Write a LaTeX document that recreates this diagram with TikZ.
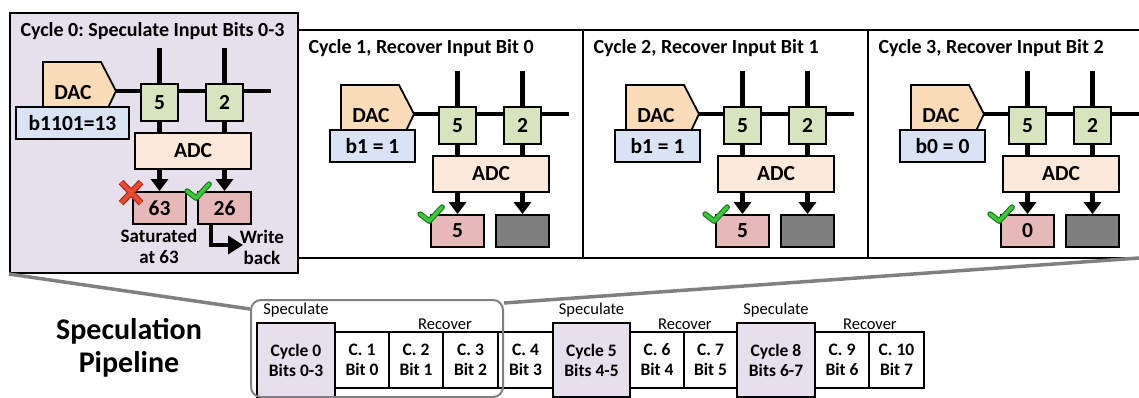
\documentclass[tikz,border=0pt]{standalone}
\usepackage{fontspec}
\setmainfont{Carlito}
\usetikzlibrary{arrows.meta,calc}
\frenchspacing

\pgfdeclarelayer{back}
\pgfdeclarelayer{bg}
\pgfsetlayers{back,bg,main}

\definecolor{panelbg}{HTML}{E6E0EC}
\definecolor{dacfill}{HTML}{FBDCB9}
\definecolor{bfill}{HTML}{DAE3F3}
\definecolor{cellfill}{HTML}{D8E4BD}
\definecolor{adcfill}{HTML}{FDE9D9}
\definecolor{outfill}{HTML}{E6B9B8}
\definecolor{deadfill}{HTML}{7F7F7F}
\definecolor{callout}{HTML}{808080}
\definecolor{okgreen}{HTML}{3CC83C}
\definecolor{okdark}{HTML}{1F7A1F}
\definecolor{badred}{HTML}{EA4A30}
\definecolor{baddark}{HTML}{9E2A17}

\newcommand\titlefont{\fontsize{20}{24}\selectfont\bfseries}
\newcommand\circfont{\fontsize{21.5}{24}\selectfont\bfseries}
\newcommand\notefont{\fontsize{19}{21}\selectfont\bfseries}
\newcommand\pipefont{\fontsize{17.5}{20}\selectfont\bfseries}
\newcommand\labfont{\fontsize{16.5}{20}\selectfont}
\newcommand\bigfont{\fontsize{30}{33}\selectfont\bfseries}

\tikzset{
  blk/.style={draw=black, line width=1.8pt, inner sep=0pt, align=center},
  wire/.style={line width=4.3pt},
  flow/.style={line width=4.3pt, -{Triangle[width=17pt,length=12pt]}},
  frame/.style={draw=black, line width=2pt, inner sep=0pt},
  stagebox/.style={blk, fill=white, font=\pipefont},
  specbox/.style={blk, fill=panelbg, font=\pipefont},
}

% box given by its corners: name, x1, y1, x2, y2, style, text
\newcommand\rectnode[7]{%
  \node[#6, minimum width={#4-#2}, minimum height={#5-#3}] (#1) at ({(#2+#4)/2},{(#3+#5)/2}) {#7};}

% one crossbar column pair with DAC, ADC and two outputs
% #1 prefix, #2/#3 offset, #4/#5 input box x range, #6 input text,
% #7 left output text, #8 right output style, #9 right output text
\newcommand\crossbar[9]{%
  \begin{scope}[shift={(#2,#3)}]
    \draw[blk, fill=dacfill] (43,62) -- (101,62) -- (116,91) -- (107,110) -- (43,110) -- cycle;
    \node[font=\circfont] (#1dac) at (73,93) {DAC};
    \coordinate (#1tip) at (116,91);
    \coordinate (#1end) at (271,91);
    \coordinate (#1topA) at (159.5,48);
    \coordinate (#1topB) at (224.5,48);
    \rectnode{#1in}{#4}{107}{#5}{139}{blk, fill=bfill, font=\circfont}{#6}
    \rectnode{#1cellA}{141}{84}{178}{121}{blk, fill=cellfill, font=\circfont}{5}
    \rectnode{#1cellB}{206}{84}{243}{121}{blk, fill=cellfill, font=\circfont}{2}
    \rectnode{#1adc}{135}{133}{251}{169}{blk, fill=adcfill, font=\circfont}{ADC}
    \rectnode{#1outA}{133}{192}{186}{224}{blk, fill=outfill, font=\circfont}{#7}
    \rectnode{#1outB}{198}{192}{251}{224}{#8}{#9}
    \begin{pgfonlayer}{bg}
      \draw[wire] (#1tip) -- (#1end);
      \draw[wire] (#1topA) -- (#1adc.north -| #1topA);
      \draw[wire] (#1topB) -- (#1adc.north -| #1topB);
    \end{pgfonlayer}
    \draw[flow] (#1adc.south -| #1topA) -- (#1outA.north -| #1topA);
    \draw[flow] (#1adc.south -| #1topB) -- (#1outB.north -| #1topB);
  \end{scope}}

% green tick beside the upper left corner of a box
\newcommand\okmark[1]{%
  \draw[line width=5.6pt, draw=okdark, line cap=round, line join=round]
    ($(#1.north west)+(-10,0)$) -- ($(#1.north west)+(-1,7)$) -- ($(#1.north west)+(12,-7)$);
  \draw[line width=3.3pt, draw=okgreen, line cap=round, line join=round]
    ($(#1.north west)+(-10,0)$) -- ($(#1.north west)+(-1,7)$) -- ($(#1.north west)+(12,-7)$);}

% one pipeline slot: name, x1, x2, style, two lines of text
\newcommand\stage[6]{%
  \ifx#4s\rectnode{#1}{#2}{323}{#3}{397}{specbox}{#5\\#6}%
  \else\rectnode{#1}{#2}{332}{#3}{388}{stagebox}{#5\\#6}\fi}

\begin{document}
\begin{tikzpicture}[x=1pt,y=-1pt]
\useasboundingbox (0,0) rectangle (1139,398);
\clip (0,0) rectangle (1139,398);

% ---- panel frames ----
\begin{pgfonlayer}{back}
  \fill[white] (0,0) rectangle (1139,398);
  \rectnode{p1frame}{298}{30}{583}{258}{frame, fill=white}{}
  \rectnode{p2frame}{583}{30}{868}{258}{frame, fill=white}{}
  \rectnode{p3frame}{868}{30}{1160}{258}{frame, fill=white}{}
  \rectnode{p0frame}{10}{13}{298}{273}{frame, fill=panelbg}{}
\end{pgfonlayer}

\node[anchor=west, font=\titlefont] (p0title) at (17,31) {Cycle 0: Speculate Input Bits 0-3};
\node[anchor=west, font=\titlefont] (p1title) at (305,48) {Cycle 1, Recover Input Bit 0};
\node[anchor=west, font=\titlefont] (p2title) at (590,48) {Cycle 2, Recover Input Bit 1};
\node[anchor=west, font=\titlefont] (p3title) at (875,48) {Cycle 3, Recover Input Bit 2};

% ---- crossbars ----
\crossbar{p0}{0}{0}{16}{129}{b1101=13}{63}{blk, fill=outfill, font=\circfont}{26}
\crossbar{p1}{298}{23}{32}{117}{b1 = 1}{5}{blk, fill=deadfill}{}
\crossbar{p2}{583}{23}{32}{117}{b1 = 1}{5}{blk, fill=deadfill}{}
\crossbar{p3}{868}{23}{32}{117}{b0 = 0}{0}{blk, fill=deadfill}{}

% marks on the outputs
\draw[line width=6.5pt, draw=baddark] ($(p0outA.north west)+(-11,-9)$) -- ($(p0outA.north west)+(9,12)$);
\draw[line width=6.5pt, draw=baddark] ($(p0outA.north west)+(-11,12)$) -- ($(p0outA.north west)+(9,-9)$);
\draw[line width=4.2pt, draw=badred] ($(p0outA.north west)+(-11,-9)$) -- ($(p0outA.north west)+(9,12)$);
\draw[line width=4.2pt, draw=badred] ($(p0outA.north west)+(-11,12)$) -- ($(p0outA.north west)+(9,-9)$);
\okmark{p0outB}
\okmark{p1outA}
\okmark{p2outA}
\okmark{p3outA}

% saturation note and write-back path
\node[font=\notefont, align=center] (satnote) at (159,246) {Saturated\\at 63};
\node[font=\notefont, align=center] (wbnote) at (262,247) {Write\\back};
\coordinate (wbtip) at (243,245);
\draw[line width=4.5pt, -{Triangle[width=18pt,length=15pt]}]
  ($(p0outB.south west)!0.25!(p0outB.south east)$) |- (wbtip);

% ---- pipeline ----
\node[font=\bigfont, align=center] (pipetitle) at (129,348) {Speculation\\Pipeline};

\stage{c1}{335}{389}{w}{C. 1}{Bit 0}
\stage{c2}{389}{443}{w}{C. 2}{Bit 1}
\stage{c3}{443}{498}{w}{C. 3}{Bit 2}
\stage{c4}{498}{553}{w}{C. 4}{Bit 3}
\stage{c6}{630}{684}{w}{C. 6}{Bit 4}
\stage{c7}{684}{737}{w}{C. 7}{Bit 5}
\stage{c9}{815}{869}{w}{C. 9}{Bit 6}
\stage{c10}{869}{924}{w}{C. 10}{Bit 7}
\stage{cy0}{257}{335}{s}{Cycle 0}{Bits 0-3}
\stage{cy5}{553}{630}{s}{Cycle 5}{Bits 4-5}
\stage{cy8}{737}{815}{s}{Cycle 8}{Bits 6-7}

\node[font=\labfont] (spec0) at (cy0.center |- 0,310) {Speculate};
\node[font=\labfont] (spec5) at (cy5.center |- 0,310) {Speculate};
\node[font=\labfont] (spec8) at (cy8.center |- 0,310) {Speculate};
\node[font=\labfont] (rec0) at (445,324) {Recover};
\node[font=\labfont] (rec5) at (c6.east |- 0,324) {Recover};
\node[font=\labfont] (rec8) at (c9.east |- 0,324) {Recover};

% group of the first four cycles and its callout lines
\rectnode{grp}{251}{300}{503}{397}{draw=callout, line width=2pt, rounded corners=10pt}{}
\coordinate (p3corner) at (1139,258);
\draw[callout, line width=3.5pt] (p0frame.south west) -- ([yshift=-10pt]grp.north west);
\draw[callout, line width=3.5pt] ([yshift=-4pt]grp.north east) -- (p3corner);
\end{tikzpicture}
\end{document}
